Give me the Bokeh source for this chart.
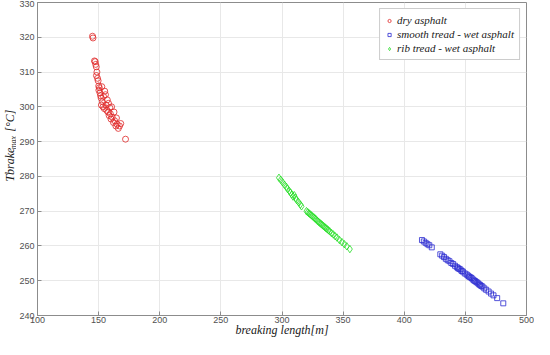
import math
from bokeh.plotting import figure
from bokeh.layouts import row
from bokeh.models import Range1d, FixedTicker, Legend, LegendItem
from bokeh.core.properties import value
from bokeh.embed import file_html
from bokeh.resources import INLINE

# ---- data ----
dry_x = [145.0, 145.4, 146.6, 147.2, 147.6, 148.1, 148.6, 148.2, 149.1, 149.6, 150.1, 150.6, 150.2,
         151.1, 151.6, 152.1, 152.6, 153.1, 152.3, 154.0, 153.6, 155.0, 154.6, 155.6, 156.1, 156.6,
         157.1, 157.6, 158.1, 158.6, 159.1, 159.6, 160.1, 160.6, 161.1, 162.1, 162.6, 163.1, 164.1,
         164.6, 165.1, 166.1, 167.1, 168.1, 172.0]
dry_y = [320.3, 319.8, 313.2, 313.0, 312.2, 311.5, 310.0, 309.0, 308.2, 307.5, 306.0, 305.5, 304.8,
         304.0, 303.2, 302.5, 305.8, 301.5, 300.5, 303.0, 300.0, 304.5, 299.5, 303.5, 300.5, 299.0,
         302.0, 298.5, 301.0, 297.5, 299.8, 298.0, 296.5, 300.0, 297.0, 295.5, 298.5, 296.0, 294.5,
         296.8, 295.0, 293.8, 294.5, 295.2, 290.7]

smooth_x = [414.5, 416.0, 417.5, 419.0, 420.5, 422.5, 429.5, 431.0, 432.5, 434.0, 435.5, 437.0,
            438.5, 440.0, 441.5, 443.0, 444.0, 445.0, 446.0, 447.0, 448.0, 449.5, 451.0, 452.0,
            453.0, 454.0, 455.0, 456.0, 457.0, 458.0, 459.0, 460.0, 461.0, 462.0, 463.0, 464.0,
            465.5, 467.0, 469.0, 471.0, 473.0, 476.0, 481.0]
smooth_y = [261.7, 261.3, 260.9, 260.5, 260.2, 259.6, 257.6, 257.2, 256.8, 256.3, 255.9, 255.6,
            255.1, 254.8, 254.3, 253.9, 253.6, 253.4, 253.2, 252.8, 252.6, 252.1, 251.8, 251.5,
            251.2, 251.0, 250.8, 250.4, 250.1, 249.9, 249.6, 249.4, 249.0, 248.8, 248.5, 248.3,
            247.8, 247.4, 246.9, 246.3, 245.8, 245.0, 243.5]

rib_x = [297.5, 299.0, 300.5, 302.0, 303.5, 304.5, 306.0, 307.0, 308.0, 309.0, 310.0, 311.0,
         312.0, 313.5, 315.0, 316.0, 320.0, 321.0, 322.0, 323.0, 324.0, 325.0, 326.0, 327.0,
         328.0, 329.0, 330.0, 331.0, 332.0, 333.0, 334.0, 335.0, 336.0, 337.0, 338.0, 339.0,
         340.5, 342.0, 343.5, 345.0, 347.0, 349.0, 351.0, 353.0, 355.5]
rib_y = [279.6, 279.0, 278.3, 277.6, 277.0, 276.4, 275.8, 275.3, 274.8, 274.2, 274.6, 273.8,
         273.2, 272.6, 271.9, 271.4, 270.0, 269.7, 269.4, 269.1, 268.8, 268.5, 268.2, 267.9,
         267.6, 267.2, 266.9, 266.6, 266.3, 266.0, 265.7, 265.4, 265.1, 264.8, 264.5, 264.2,
         263.7, 263.3, 262.8, 262.4, 261.7, 261.1, 260.5, 259.9, 259.1]

x_ticks = [100, 150, 200, 250, 300, 350, 400, 450, 500]
y_ticks = [240, 250, 260, 270, 280, 290, 300, 310, 320, 330]

y_label_parts = ["Tbrake", "max", "[°C]"]

H = 339
LW = 16

p = figure(width=534 - LW, height=H, output_backend="svg", toolbar_location=None,
           x_range=Range1d(100, 500), y_range=Range1d(240, 330),
           min_border_left=12, min_border_right=8, min_border_top=2, min_border_bottom=0)
p.background_fill_color = "white"
p.border_fill_color = "white"
p.outline_line_color = "#8c8c8c"

for ax in (p.xaxis[0], p.yaxis[0]):
    ax.axis_line_color = "#8c8c8c"
    ax.major_tick_line_color = "#8c8c8c"
    ax.major_tick_in = 4
    ax.major_tick_out = 0
    ax.minor_tick_line_color = None
    ax.major_label_text_font = "Liberation Sans"
    ax.major_label_text_font_size = "9px"
    ax.major_label_text_color = "#505050"
    ax.major_label_standoff = 3

p.xaxis[0].ticker = FixedTicker(ticks=x_ticks)
p.yaxis[0].ticker = FixedTicker(ticks=y_ticks)
p.xaxis[0].major_label_standoff = 1
p.xaxis[0].axis_label = "breaking length[m]"
p.xaxis[0].axis_label_text_font = "Liberation Serif"
p.xaxis[0].axis_label_text_font_style = "italic"
p.xaxis[0].axis_label_text_font_size = "12px"
p.xaxis[0].axis_label_text_color = "#202020"
p.xaxis[0].axis_label_standoff = -3

p.xgrid[0].ticker = FixedTicker(ticks=x_ticks)
p.ygrid[0].ticker = FixedTicker(ticks=y_ticks)
p.grid.grid_line_color = "#e8e8e8"
p.grid.grid_line_width = 1

r_dry = p.scatter(dry_x, dry_y, marker="circle", size=6, fill_color=None,
                  line_color="#e02828", line_width=0.8)
r_smooth = p.scatter(smooth_x, smooth_y, marker="square", size=5, fill_color=None,
                     line_color="#2a2ad0", line_width=0.8)
r_rib = p.scatter(rib_x, rib_y, marker="diamond", size=7.5, fill_color=None,
                  line_color="#22dd22", line_width=0.8)

legend = Legend(items=[LegendItem(label="dry asphalt", renderers=[r_dry]),
                       LegendItem(label="smooth tread - wet asphalt", renderers=[r_smooth]),
                       LegendItem(label="rib tread - wet asphalt", renderers=[r_rib])],
                location="top_right")
legend.label_text_font = "Liberation Serif"
legend.label_text_font_style = "italic"
legend.label_text_font_size = "11px"
legend.label_text_color = "#202020"
legend.label_height = 11
legend.glyph_height = 11
legend.glyph_width = 8
legend.spacing = 2
legend.padding = 5
legend.margin = 6
legend.label_standoff = 4
legend.border_line_color = "#9a9a9a"
legend.border_line_width = 1
legend.background_fill_color = "white"
legend.background_fill_alpha = 1
p.add_layout(legend)

# narrow strip on the left carrying the rotated y-axis label (pixel coordinates)
q = figure(width=LW, height=H, output_backend="svg", toolbar_location=None,
           x_range=Range1d(0, LW), y_range=Range1d(0, H),
           x_axis_type=None, y_axis_type=None,
           min_border_left=0, min_border_right=0, min_border_top=0, min_border_bottom=0)
q.outline_line_color = None
q.grid.visible = False
q.background_fill_color = "white"
q.border_fill_color = "white"
ybase = 145
q.text(x=[9], y=[ybase], text=[y_label_parts[0]], angle=math.pi / 2,
       text_font=value("Liberation Serif"), text_font_style="italic", text_font_size="12px",
       text_color="#202020", text_align="left", text_baseline="middle")
q.text(x=[12.5], y=[ybase + 35], text=[y_label_parts[1]], angle=math.pi / 2,
       text_font=value("Liberation Serif"), text_font_style="italic", text_font_size="8px",
       text_color="#202020", text_align="left", text_baseline="middle")
q.text(x=[9], y=[ybase + 54], text=[y_label_parts[2]], angle=math.pi / 2,
       text_font=value("Liberation Serif"), text_font_style="italic", text_font_size="12px",
       text_color="#202020", text_align="left", text_baseline="middle")

layout = row(q, p, spacing=0)
open("out.html", "w").write(file_html(layout, INLINE))
